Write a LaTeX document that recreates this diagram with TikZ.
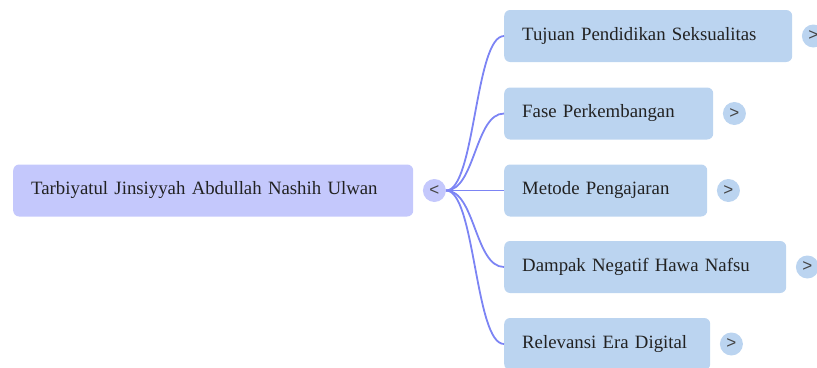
\documentclass[tikz,border=0pt]{standalone}
\usepackage{fontspec}
\setmainfont{Liberation Serif}
\setsansfont{Liberation Sans}
\usetikzlibrary{calc}
\definecolor{rootfill}{HTML}{C4C8FC}
\definecolor{childfill}{HTML}{BBD4F0}
\definecolor{linkcol}{HTML}{7C84F4}
\definecolor{txt}{HTML}{222222}
\definecolor{tog}{HTML}{444444}
\tikzset{
  box/.style={rectangle, rounded corners=6pt, draw=none, minimum height=52pt,
    inner xsep=18pt, inner ysep=0pt, align=left, anchor=west, text=txt,
    font=\fontsize{18.8}{23}\selectfont},
  rootbox/.style={box, fill=rootfill},
  childbox/.style={box, fill=childfill},
  togglec/.style={circle, minimum size=23pt, inner sep=0pt, text=tog,
    font=\sffamily\fontsize{17}{17}\selectfont},
  link/.style={draw=linkcol, line width=1.8pt}
}
\begin{document}
\begin{tikzpicture}[x=1pt,y=-1pt]
\useasboundingbox (0,0) rectangle (817,367);
\node[rootbox, text width=364pt] (root) at (13,190.5) {Tarbiyatul Jinsiyyah Abdullah Nashih Ulwan};
\node[togglec, fill=rootfill] (rt) at ([xshift=21pt]root.east) {<};

\node[childbox, text width=252pt] (c1) at (504,36) {Tujuan Pendidikan Seksualitas};
\node[childbox, text width=173pt] (c2) at (504,113.5) {Fase Perkembangan};
\node[childbox, text width=167pt] (c3) at (504,190.5) {Metode Pengajaran};
\node[childbox, text width=246pt] (c4) at (504,267) {Dampak Negatif Hawa Nafsu};
\node[childbox, text width=170pt] (c5) at (504,344) {Relevansi Era Digital};

\foreach \c in {c1,c2,c3,c4,c5}{
  \node[togglec, fill=childfill] (t\c) at ([xshift=21pt]\c.east) {>};
  \draw[link] (rt.east) .. controls ($(rt.east)+(29,0)$) and ($(\c.west)+(-29,0)$) .. (\c.west);
}
\end{tikzpicture}
\end{document}
